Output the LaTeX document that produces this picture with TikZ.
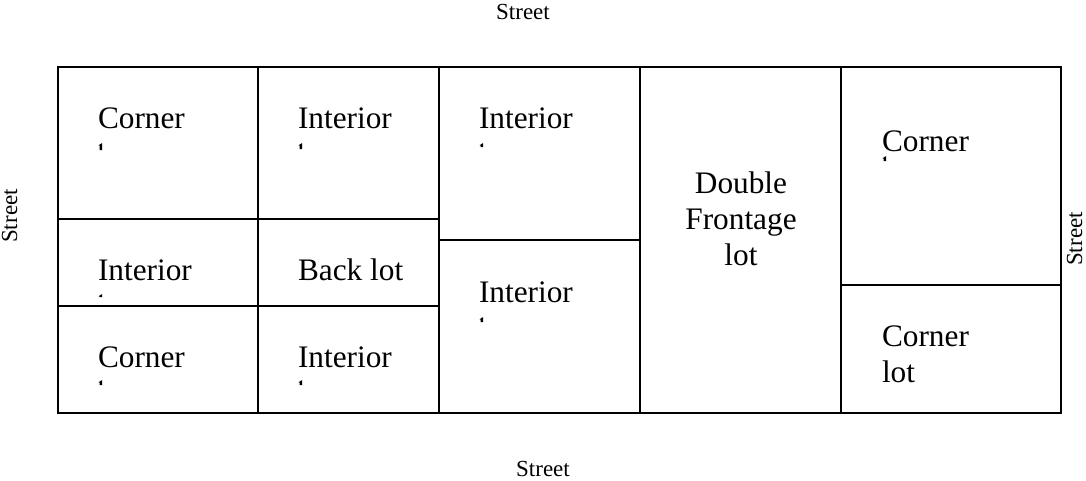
\documentclass[tikz,border=0pt]{standalone}
\usepackage{fontspec}
\setmainfont{Liberation Serif}
\begin{document}
\begin{tikzpicture}[x=1pt,y=-1pt,
  lotline/.style={line width=2pt,black},
  lotlabel/.style={inner sep=0pt,outer sep=0pt,font=\fontsize{31.3}{36}\selectfont},
  streetlabel/.style={inner sep=0pt,outer sep=0pt,font=\fontsize{23}{27}\selectfont}]
\useasboundingbox (0,0) rectangle (1086,480);
% block outline and lot lines
\draw[lotline] (58,67) rectangle (1061,413);
\draw[lotline] (258,67) -- (258,413);
\draw[lotline] (439,67) -- (439,413);
\draw[lotline] (640,67) -- (640,413);
\draw[lotline] (841,67) -- (841,413);
\draw[lotline] (58,219) -- (439,219);
\draw[lotline] (58,306) -- (439,306);
\draw[lotline] (439,240) -- (640,240);
\draw[lotline] (841,285) -- (1061,285);
% street labels
\node[streetlabel,anchor=base] (streetN) at (523,19) {Street};
\node[streetlabel,anchor=base] (streetS) at (543,476) {Street};
\node[streetlabel,anchor=base,rotate=90] (streetW) at (17,216) {Street};
\node[streetlabel,anchor=base,rotate=90] (streetE) at (1082,239) {Street};
% lot labels
\node[lotlabel,anchor=base west] (c11) at (98,128) {Corner};
\node[lotlabel,anchor=base west] (c12) at (298,128) {Interior};
\node[lotlabel,anchor=base west] (c13) at (479,128) {Interior};
\node[lotlabel,anchor=base west] (c21) at (98,280) {Interior};
\node[lotlabel,anchor=base west] (c22) at (298,280) {Back lot};
\node[lotlabel,anchor=base west] (c31) at (98,367) {Corner};
\node[lotlabel,anchor=base west] (c32) at (298,367) {Interior};
\node[lotlabel,anchor=base west] (c23) at (479,302) {Interior};
\node[lotlabel,anchor=north,align=center] (dbl) at (741,171.6) {Double\\Frontage\\lot};
\node[lotlabel,anchor=base west] (c51) at (882,151) {Corner};
\node[lotlabel,anchor=north west,align=left] (c52) at (882,325.3) {Corner\\lot};
% clipped remnants of a second text line
\foreach \x/\t/\b in {98/143/150, 298/143/149, 479/143/147, 98/294/297, 479/317/322, 98/380/385, 298/380/385, 882/156/161}{
  \fill (\x+0.6,\t+2.2) -- (\x+4.2,\t) -- (\x+4.2,\b) -- (\x+1.6,\b) -- (\x+1.6,\t+2.6) -- cycle;
}
\end{tikzpicture}
\end{document}
